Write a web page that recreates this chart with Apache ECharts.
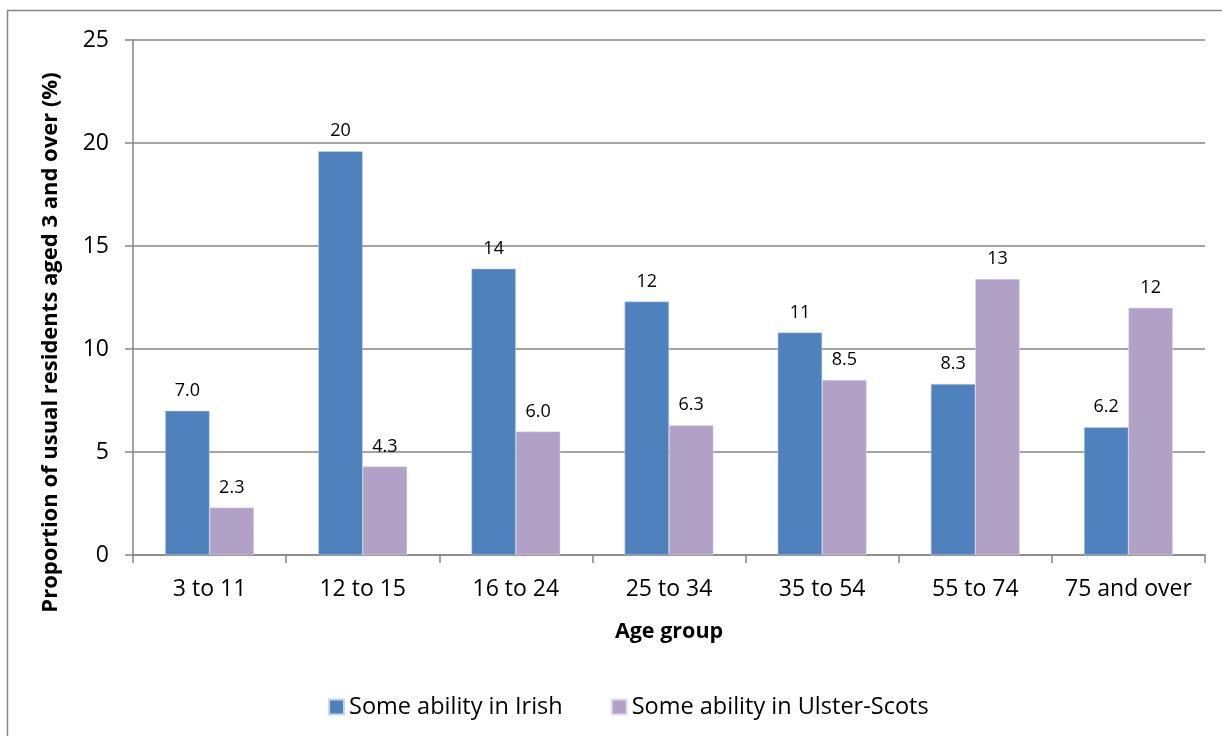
<!DOCTYPE html>
<html>
<head>
<meta charset="utf-8">
<script src="https://cdn.jsdelivr.net/npm/echarts@6/dist/echarts.min.js"></script>
<style>
  html, body { margin: 0; padding: 0; background: #fff; }
  #chart { width: 1222px; height: 736px; }
</style>
</head>
<body>
<div id="chart"></div>
<script>
// age groups and the two series (percent of usual residents aged 3+)
const ageGroups = ['3 to 11', '12 to 15', '16 to 24', '25 to 34', '35 to 54', '55 to 74', '75 and over'];
const irish = [7.0, 19.6, 13.9, 12.3, 10.8, 8.3, 6.2];
const ulsterScots = [2.3, 4.3, 6.0, 6.3, 8.5, 13.4, 12.0];
const yTicks = [0, 5, 10, 15, 20, 25];

const font = '"Open Sans", Lato, sans-serif';
const grey = '#868686';

const chart = echarts.init(document.getElementById('chart'));

// labels are shown to two significant figures like the original
const fmt = p => Number(p.value).toPrecision(2);

const option = {
  animation: false,
  textStyle: { fontFamily: font },
  graphic: [{
    type: 'rect',
    shape: { x: 7.5, y: 10.5, width: 1400, height: 900 },
    style: { fill: 'none', stroke: grey, lineWidth: 1.5 },
    silent: true
  }],
  grid: { left: 133, right: 17, top: 40, bottom: 181 },
  legend: {
    top: 690,
    left: 323,
    itemWidth: 15,
    itemHeight: 15,
    itemGap: 48,
    itemTextGap: 5,
    icon: 'rect',
    textStyle: { fontSize: 23.5, color: '#000', fontFamily: font },
    data: ['Some ability in Irish', 'Some ability in Ulster-Scots']
  },
  xAxis: {
    type: 'category',
    data: ageGroups,
    name: 'Age group',
    nameLocation: 'middle',
    nameGap: 66,
    nameTextStyle: { fontSize: 21.5, fontWeight: 'bold', color: '#000' },
    axisLine: { lineStyle: { color: grey, width: 1.5 } },
    axisTick: { show: true, interval: 0, length: 8, lineStyle: { color: grey, width: 1.5 } },
    axisLabel: { interval: 0, fontSize: 23, color: '#000', margin: 23 }
  },
  yAxis: {
    type: 'value',
    min: yTicks[0],
    max: yTicks[yTicks.length - 1],
    interval: 5,
    name: 'Proportion of usual residents aged 3 and over (%)',
    nameLocation: 'middle',
    nameGap: 71,
    nameTextStyle: { fontSize: 22, fontWeight: 'bold', color: '#000', padding: [0, 90, 0, 0] },
    axisLine: { show: true, lineStyle: { color: grey, width: 1.5 } },
    axisTick: { show: true, length: 8, lineStyle: { color: grey, width: 1.5 } },
    axisLabel: { fontSize: 23, color: '#000', margin: 24 },
    splitLine: { lineStyle: { color: grey, width: 1.5 } }
  },
  series: [
    {
      name: 'Some ability in Irish',
      type: 'bar',
      data: irish,
      barGap: '0%',
      barCategoryGap: '42%',
      itemStyle: { color: '#4F81BD', borderColor: '#c9d6ea', borderWidth: 0.5 },
      label: { show: true, position: 'top', distance: 11, fontSize: 18, color: '#000', formatter: fmt }
    },
    {
      name: 'Some ability in Ulster-Scots',
      type: 'bar',
      data: ulsterScots,
      barGap: '0%',
      barCategoryGap: '42%',
      itemStyle: { color: '#B2A1C7', borderColor: '#e3dcec', borderWidth: 0.5 },
      label: { show: true, position: 'top', distance: 11, fontSize: 18, color: '#000', formatter: fmt }
    }
  ]
};

chart.setOption(option);
</script>
</body>
</html>
